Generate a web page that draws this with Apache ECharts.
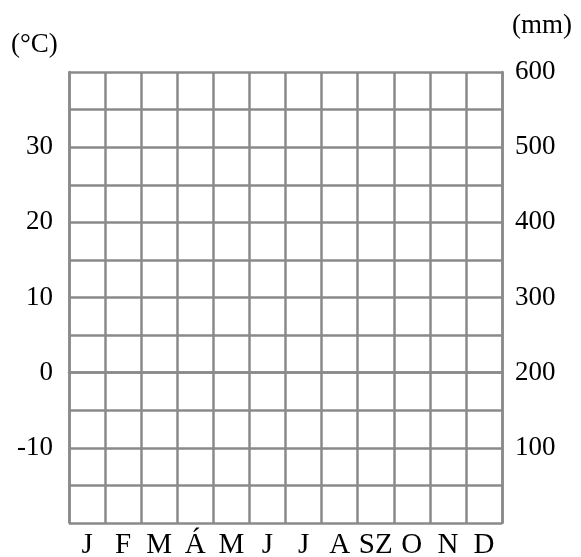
<!DOCTYPE html>
<html>
<head>
<meta charset="utf-8">
<script src="https://cdn.jsdelivr.net/npm/echarts@6/dist/echarts.min.js"></script>
<style>
html,body{margin:0;padding:0;background:#fff;}
#chart{width:581px;height:557px;}
</style>
</head>
<body>
<div id="chart"></div>
<script>
const months = ['J','F','M','Á','M','J','J','A','SZ','O','N','D'];
const tempTicks = [-10, 0, 10, 20, 30];
const precipTicks = [100, 200, 300, 400, 500, 600];
const temperature = [];
const precipitation = [];

const FONT = "'Liberation Serif','Times New Roman',serif";
const GRID = '#8a8a8a';

const chart = echarts.init(document.getElementById('chart'));
chart.setOption({
  animation: false,
  backgroundColor: '#fff',
  grid: { left: 69, right: 79, top: 72, bottom: 34, containLabel: false, outerBoundsMode: 'none' },
  xAxis: {
    type: 'category',
    data: months,
    boundaryGap: true,
    axisLine: { show: true, lineStyle: { color: GRID, width: 2.5 } },
    axisTick: { show: false },
    splitLine: { show: true, lineStyle: { color: GRID, width: 2.5 } },
    axisLabel: { color: '#000', fontFamily: FONT, fontSize: 29, margin: 8, interval: 0 }
  },
  yAxis: [
    {
      type: 'value', min: -20, max: 40, interval: 5,
      axisLine: { show: true, lineStyle: { color: GRID, width: 2.5 } },
      axisTick: { show: false },
      splitLine: { show: true, lineStyle: { color: GRID, width: 2.5 } },
      axisLabel: {
        color: '#000', fontFamily: FONT, fontSize: 27, margin: 16,
        formatter: v => tempTicks.includes(v) ? String(v) : ''
      }
    },
    {
      type: 'value', min: 0, max: 600, interval: 50, position: 'right',
      axisLine: { show: true, lineStyle: { color: GRID, width: 2.5 } },
      axisTick: { show: false },
      splitLine: { show: false },
      axisLabel: {
        color: '#000', fontFamily: FONT, fontSize: 27, margin: 13,
        formatter: v => precipTicks.includes(v) ? String(v) : ''
      }
    }
  ],
  graphic: [
    { type: 'text', left: 11, top: 31, style: { text: '(°C)', font: "27px 'Liberation Serif', serif", fill: '#000' } },
    { type: 'text', left: 512, top: 12, style: { text: '(mm)', font: "27px 'Liberation Serif', serif", fill: '#000' } }
  ],
  series: [
    { name: 'Hőmérséklet', type: 'line', yAxisIndex: 0, data: temperature },
    { name: 'Csapadék', type: 'bar', yAxisIndex: 1, data: precipitation }
  ]
});
</script>
</body>
</html>
